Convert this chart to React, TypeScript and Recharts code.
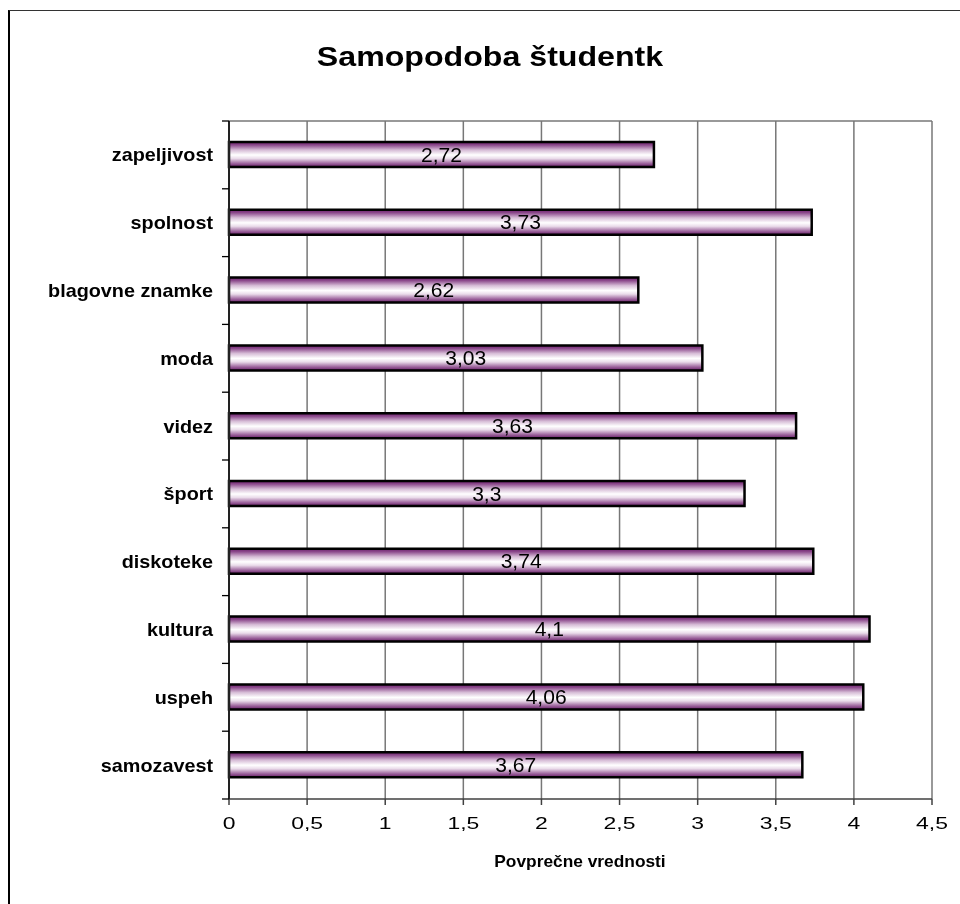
import React from 'react';
import {
  BarChart,
  Bar,
  XAxis,
  YAxis,
  CartesianGrid,
  LabelList,
} from 'recharts';

// categories listed top to bottom
const categories = [
  'zapeljivost',
  'spolnost',
  'blagovne znamke',
  'moda',
  'videz',
  'šport',
  'diskoteke',
  'kultura',
  'uspeh',
  'samozavest',
];

const averages = [2.72, 3.73, 2.62, 3.03, 3.63, 3.3, 3.74, 4.1, 4.06, 3.67];

const xTicks = [0, 0.5, 1, 1.5, 2, 2.5, 3, 3.5, 4, 4.5];

const title = 'Samopodoba študentk';
const xTitle = 'Povprečne vrednosti';

const WIDTH = 944;
const HEIGHT = 888;
const MARGIN = { top: 113, right: 20, bottom: 37, left: 0 };
const X_AXIS_HEIGHT = 60;
const Y_AXIS_WIDTH = 221;
const BAND_HALF =
  (HEIGHT - MARGIN.top - MARGIN.bottom - X_AXIS_HEIGHT) / categories.length / 2;

const FONT = '"Liberation Sans", Arial, sans-serif';

const fmt = (v: number) => String(v).replace('.', ',');

const chartData = categories.map((name, i) => ({ name, value: averages[i] }));

const CategoryTick = (props: any) => {
  const { x, y, payload, index } = props;
  const axisX = x + 9 + 7;
  return (
    <g>
      <line x1={axisX - 7} x2={axisX} y1={y - BAND_HALF} y2={y - BAND_HALF} stroke="#000" strokeWidth={1.3} />
      {index === categories.length - 1 && (
        <line x1={axisX - 7} x2={axisX} y1={y + BAND_HALF} y2={y + BAND_HALF} stroke="#000" strokeWidth={1.3} />
      )}
      <text
        transform={`translate(${x},${y}) scale(1.1,1)`}
        textAnchor="end"
        dy="0.36em"
        fontFamily={FONT}
        fontWeight="bold"
        fontSize={18}
        fill="#000"
      >
        {payload.value}
      </text>
    </g>
  );
};

const ValueTick = (props: any) => {
  const { x, y, payload } = props;
  return (
    <text
      transform={`translate(${x},${y}) scale(1.35,1)`}
      textAnchor="middle"
      dy="0.36em"
      fontFamily={FONT}
      fontSize={17}
      fill="#000"
    >
      {fmt(payload.value)}
    </text>
  );
};

const BarValue = (props: any) => {
  const { x, y, width, height, value } = props;
  const cx = x + width / 2;
  const cy = y + height / 2;
  return (
    <text
      transform={`translate(${cx},${cy}) scale(1.08,1)`}
      textAnchor="middle"
      dy="0.36em"
      fontFamily={FONT}
      fontSize={19.5}
      fill="#000"
    >
      {fmt(Number(value))}
    </text>
  );
};

export default function App() {
  return (
    <div style={{ position: 'relative', width: WIDTH, height: HEIGHT, background: '#fff' }}>
      {/* outer chart frame, runs off the page on the right and bottom */}
      <div
        style={{
          position: 'fixed',
          left: 8,
          top: 10,
          width: 1000,
          height: 1000,
          borderLeft: '2px solid #000',
          borderTop: '1.5px solid #333',
          boxSizing: 'border-box',
        }}
      />
      <div
        style={{
          position: 'absolute',
          left: 482,
          top: 49,
          transform: 'translate(-50%, -50%) scaleX(1.19)',
          fontFamily: FONT,
          fontWeight: 'bold',
          fontSize: 27,
          lineHeight: 1,
          whiteSpace: 'nowrap',
        }}
      >
        {title}
      </div>
      <div
        style={{
          position: 'absolute',
          left: 572,
          top: 853,
          transform: 'translate(-50%, -50%) scaleX(1.05)',
          fontFamily: FONT,
          fontWeight: 'bold',
          fontSize: 16.5,
          lineHeight: 1,
          whiteSpace: 'nowrap',
        }}
      >
        {xTitle}
      </div>
      <div style={{ position: 'absolute', left: 0, top: 0 }}>
        <BarChart
          width={WIDTH}
          height={HEIGHT}
          data={chartData}
          layout="vertical"
          margin={MARGIN}
          barCategoryGap={0}
        >
          <defs>
            <linearGradient id="barFill" x1="0" y1="0" x2="0" y2="1">
              <stop offset="0" stopColor="#6e1f6e" />
              <stop offset="0.12" stopColor="#8c4a8c" />
              <stop offset="0.32" stopColor="#d6bcd6" />
              <stop offset="0.52" stopColor="#ffffff" />
              <stop offset="0.66" stopColor="#eadcea" />
              <stop offset="0.86" stopColor="#9c639c" />
              <stop offset="1" stopColor="#641c64" />
            </linearGradient>
          </defs>
          <CartesianGrid
            vertical
            horizontal
            stroke="#777"
            strokeWidth={1.5}
            horizontalCoordinatesGenerator={({ offset }: any) => [offset.top]}
          />
          <XAxis
            type="number"
            domain={[0, 4.5]}
            ticks={xTicks}
            interval={0}
            height={X_AXIS_HEIGHT}
            stroke="#404040"
            strokeWidth={1.5}
            tickSize={6}
            tickMargin={18}
            tick={<ValueTick />}
          />
          <YAxis
            type="category"
            dataKey="name"
            width={Y_AXIS_WIDTH}
            stroke="#222"
            strokeWidth={2}
            tickLine={false}
            tickSize={7}
            tickMargin={9}
            interval={0}
            tick={<CategoryTick />}
          />
          <Bar
            dataKey="value"
            fill="url(#barFill)"
            stroke="#000"
            strokeWidth={2.5}
            barSize={25}
            isAnimationActive={false}
          >
            <LabelList dataKey="value" content={<BarValue />} />
          </Bar>
        </BarChart>
      </div>
    </div>
  );
}
